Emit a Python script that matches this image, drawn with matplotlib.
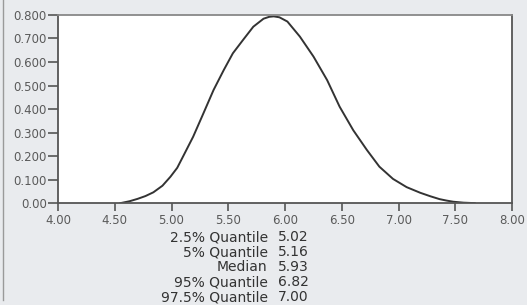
import numpy as np
import matplotlib
matplotlib.use("Agg")
import matplotlib.pyplot as plt
from matplotlib.lines import Line2D

# density curve
x_vals = [4.55, 4.63, 4.70, 4.77, 4.84, 4.92, 4.99, 5.05, 5.10, 5.19, 5.28, 5.37, 5.46,
          5.54, 5.63, 5.72, 5.81, 5.86, 5.90, 5.95, 6.02, 6.13, 6.25, 6.37, 6.48, 6.60,
          6.72, 6.83, 6.95, 7.07, 7.19, 7.28, 7.36, 7.42, 7.48, 7.57, 7.67]
y_vals = [0.0, 0.008, 0.018, 0.030, 0.046, 0.074, 0.112, 0.150, 0.197, 0.282, 0.381, 0.481, 0.566,
          0.637, 0.694, 0.750, 0.784, 0.792, 0.794, 0.790, 0.772, 0.708, 0.623, 0.523, 0.410, 0.310,
          0.226, 0.155, 0.103, 0.068, 0.044, 0.029, 0.017, 0.011, 0.006, 0.002, 0.0]

x_ticks = [4.0, 4.5, 5.0, 5.5, 6.0, 6.5, 7.0, 7.5, 8.0]
x_ticklabels = ["4.00", "4.50", "5.00", "5.50", "6.00", "6.50", "7.00", "7.50", "8.00"]
y_ticks = [0.0, 0.1, 0.2, 0.3, 0.4, 0.5, 0.6, 0.7, 0.8]
y_ticklabels = ["0.00", "0.100", "0.200", "0.300", "0.400", "0.500", "0.600", "0.700", "0.800"]

stat_names = ["2.5% Quantile", "5% Quantile", "Median", "95% Quantile", "97.5% Quantile"]
stat_values = ["5.02", "5.16", "5.93", "6.82", "7.00"]

bg = "#e9ebee"
fig = plt.figure(figsize=(5.27, 3.05), dpi=100, facecolor=bg)
ax = fig.add_axes([0.110, 0.334, 0.862, 0.617])
ax.set_facecolor("white")

ax.plot(x_vals, y_vals, color="#333333", linewidth=1.4, solid_joinstyle="round")

ax.set_xlim(4.0, 8.0)
ax.set_ylim(0.0, 0.8)
ax.set_xticks(x_ticks)
ax.set_xticklabels(x_ticklabels)
ax.set_yticks(y_ticks)
ax.set_yticklabels(y_ticklabels)
ax.tick_params(direction="out", width=1.2, color="#555555",
               labelsize=8.5, labelcolor="#5a5a5a")
ax.tick_params(axis="x", length=6, pad=2)
ax.tick_params(axis="y", length=7, pad=1)

for side, spine in ax.spines.items():
    spine.set_color("#555555")
    spine.set_linewidth(1.3)
ax.spines["top"].set_color("#888888")

# summary table under the plot
y0 = 0.222
step = 0.049
for i, (name, val) in enumerate(zip(stat_names, stat_values)):
    yy = y0 - i * step
    fig.text(0.508, yy, name, ha="right", va="center", fontsize=10,
             color="#333333")
    fig.text(0.527, yy, val, ha="left", va="center", fontsize=10,
             color="#333333")

# panel border on the left
fig.add_artist(Line2D([0.006, 0.006], [0.015, 1.0], transform=fig.transFigure,
                      color="#9a9a9a", linewidth=1))

fig.savefig("out.png", dpi=100, facecolor=bg)
